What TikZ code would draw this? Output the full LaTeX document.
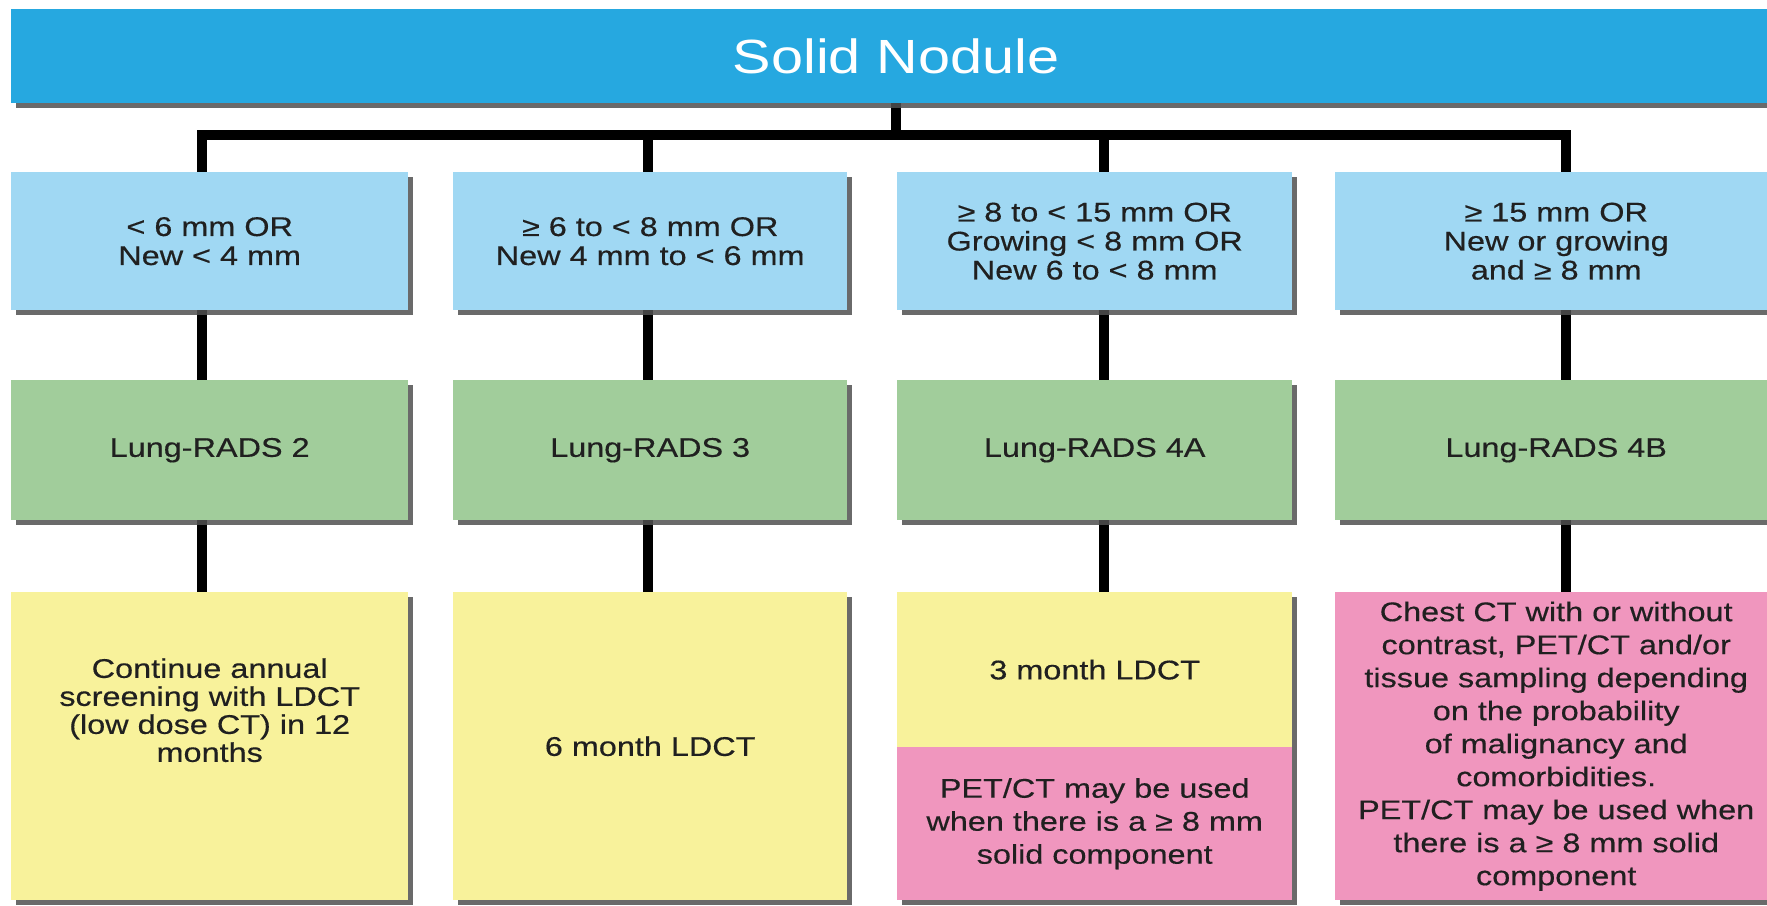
\documentclass[tikz,border=0pt]{standalone}
\usepackage{fontspec}
\setmainfont[FakeStretch=1.2]{Liberation Sans}
\newfontfamily\boxfont[FakeStretch=1.2,FakeBold=0.4]{Liberation Sans}
\usetikzlibrary{shadows,backgrounds}
\definecolor{barblue}{RGB}{38,168,224}
\definecolor{lblue}{RGB}{160,216,243}
\definecolor{lgreen}{RGB}{161,205,155}
\definecolor{lyellow}{RGB}{248,242,155}
\definecolor{lpink}{RGB}{240,150,190}
\definecolor{txt}{RGB}{32,32,32}
\definecolor{shadowgray}{RGB}{80,80,80}
\tikzset{
  box/.style={rectangle, inner sep=0pt, anchor=north west, align=center, text=txt,
    font=\boxfont\fontsize{27}{33}\selectfont,
    drop shadow={shadow xshift=5pt, shadow yshift=-5pt, fill=shadowgray, opacity=0.85}},
  tight/.style={font=\boxfont\fontsize{27}{29}\selectfont},
  plaintext/.style={inner sep=0pt, align=center, text=txt, font=\boxfont\fontsize{27}{28}\selectfont},
  conn/.style={line width=10pt, draw=black, line join=miter}
}
\begin{document}
\begin{tikzpicture}[x=1pt,y=-1pt]
\useasboundingbox (0,0) rectangle (1767,905);
\clip (0,0) rectangle (1767,905);
% title bar
\node[box, fill=barblue, text=white, font=\fontsize{48}{56}\selectfont,
  minimum width=1770pt, minimum height=94pt] (title) at (11,9) {Solid Nodule};
% size row
\node[box, tight, fill=lblue, minimum width=397pt, minimum height=138pt] (c1) at (11,172) {< 6 mm OR\\New < 4 mm};
\node[box, tight, fill=lblue, minimum width=394pt, minimum height=138pt] (c2) at (453,172) {≥ 6 to < 8 mm OR\\New 4 mm to < 6 mm};
\node[box, tight, fill=lblue, minimum width=395pt, minimum height=138pt] (c3) at (897,172) {≥ 8 to < 15 mm OR\\Growing < 8 mm OR\\New 6 to < 8 mm};
\node[box, tight, fill=lblue, minimum width=442pt, minimum height=138pt] (c4) at (1335,172) {≥ 15 mm OR\\New or growing\\and ≥ 8 mm};
% category row
\node[box, fill=lgreen, minimum width=397pt, minimum height=140pt] (g1) at (11,380) {Lung-RADS 2};
\node[box, fill=lgreen, minimum width=394pt, minimum height=140pt] (g2) at (453,380) {Lung-RADS 3};
\node[box, fill=lgreen, minimum width=395pt, minimum height=140pt] (g3) at (897,380) {Lung-RADS 4A};
\node[box, fill=lgreen, minimum width=442pt, minimum height=140pt] (g4) at (1335,380) {Lung-RADS 4B};
% management row
\node[box, fill=lyellow, minimum width=397pt, minimum height=308pt] (m1) at (11,592) {};
\node[plaintext] (m1t) at ([yshift=36pt]m1.center) {Continue annual\\screening with LDCT\\(low dose CT) in 12\\months};
\node[box, fill=lyellow, minimum width=394pt, minimum height=308pt] (m2) at (453,592) {6 month LDCT};
\node[box, fill=lyellow, minimum width=395pt, minimum height=155pt] (m3) at (897,592) {3 month LDCT};
\node[box, fill=lpink, minimum width=395pt, minimum height=153pt] (m3b) at (897,747) {PET/CT may be used\\when there is a ≥ 8 mm\\solid component};
\node[box, fill=lpink, minimum width=442pt, minimum height=308pt] (m4) at (1335,592) {Chest CT with or without\\contrast, PET/CT and/or\\tissue sampling depending\\on the probability\\of malignancy and\\comorbidities.\\PET/CT may be used when\\there is a ≥ 8 mm solid\\component};
% connectors
\begin{scope}[on background layer]
\path (title.south) ++(0,32) coordinate (hub);
\path ([xshift=-7.5pt]c1.north) coordinate (t1);
\path ([xshift=-2pt]c2.north) coordinate (t2);
\path ([xshift=9.5pt]c3.north) coordinate (t3);
\path ([xshift=10pt]c4.north) coordinate (t4);
\draw[conn] (title.south) -- (hub);
\draw[conn] (t1) -- (t1 |- hub) -- (t4 |- hub) -- (t4);
\draw[conn] (t2) -- (t2 |- hub);
\draw[conn] (t3) -- (t3 |- hub);
\draw[conn] ([xshift=-7.5pt]c1.south) -- ([xshift=-7.5pt]g1.north);
\draw[conn] ([xshift=-2pt]c2.south) -- ([xshift=-2pt]g2.north);
\draw[conn] ([xshift=9.5pt]c3.south) -- ([xshift=9.5pt]g3.north);
\draw[conn] ([xshift=10pt]c4.south) -- ([xshift=10pt]g4.north);
\draw[conn] ([xshift=-7.5pt]g1.south) -- ([xshift=-7.5pt]m1.north);
\draw[conn] ([xshift=-2pt]g2.south) -- ([xshift=-2pt]m2.north);
\draw[conn] ([xshift=9.5pt]g3.south) -- ([xshift=9.5pt]m3.north);
\draw[conn] ([xshift=10pt]g4.south) -- ([xshift=10pt]m4.north);
\end{scope}
\end{tikzpicture}
\end{document}
